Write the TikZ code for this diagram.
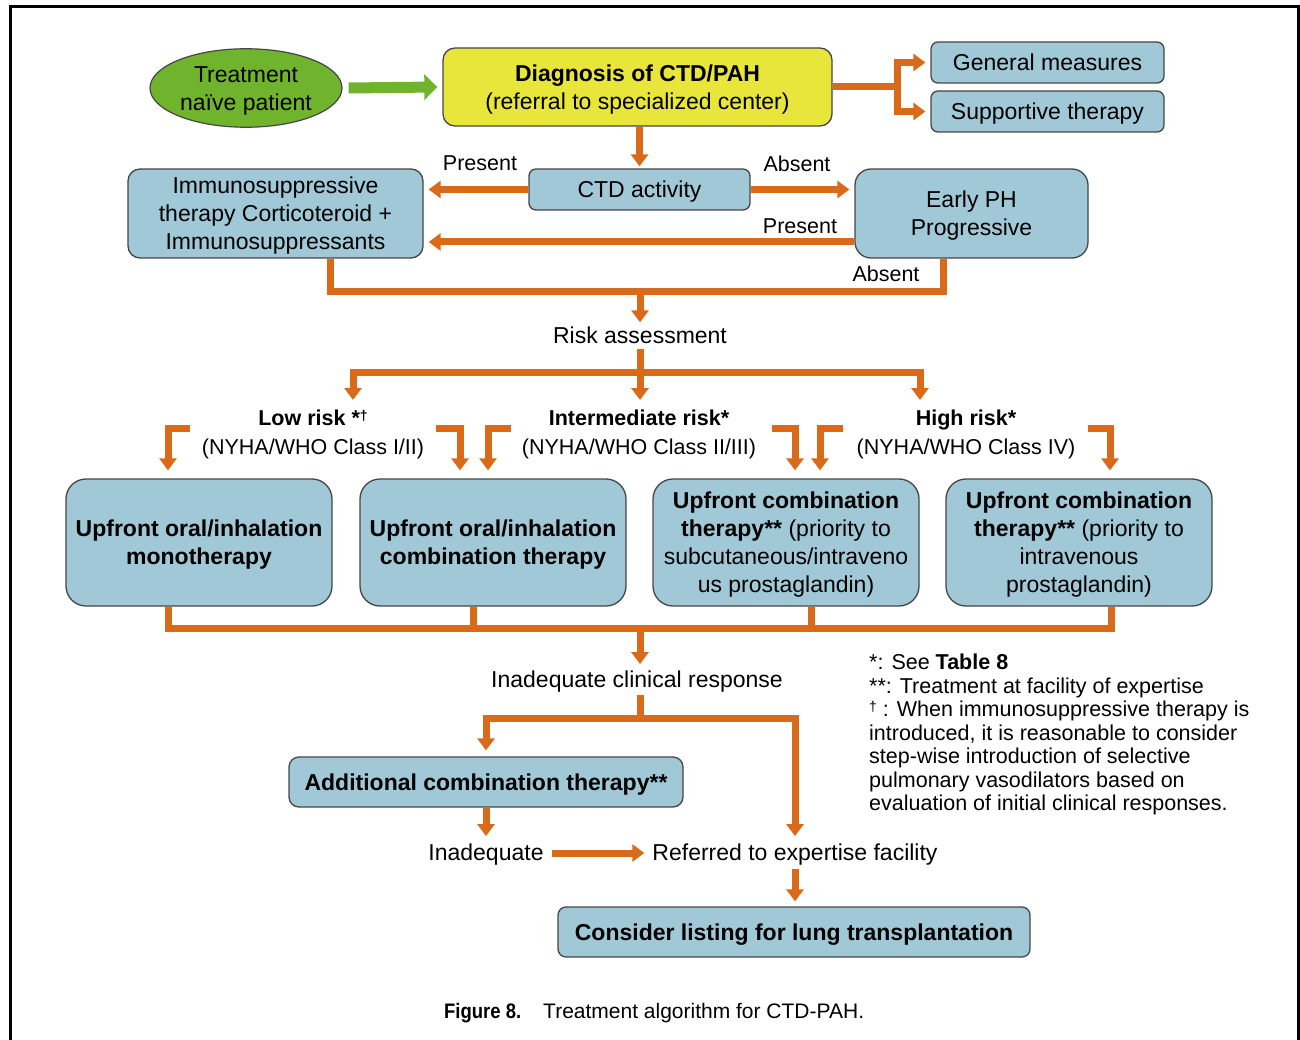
\documentclass[tikz,border=0pt]{standalone}
\usepackage{fontspec}
\setmainfont{Liberation Sans}
\newfontfamily\capfont[FakeStretch=0.88]{Liberation Sans}
\usetikzlibrary{shapes.geometric,arrows.meta,calc}

\definecolor{boxblue}{RGB}{160,200,214}
\definecolor{diagyellow}{RGB}{232,230,58}
\definecolor{naivegreen}{RGB}{112,180,46}
\definecolor{flow}{RGB}{217,106,26}
\definecolor{edgegray}{RGB}{70,70,70}

% small raised dagger
\newcommand{\dagmark}{{\fontsize{14}{14}\selectfont\raisebox{5pt}{†}}}
% strut that centres box text on its cap height
\newcommand{\bs}{\rule[-5.5pt]{0pt}{27.5pt}}

\begin{document}
\begin{tikzpicture}[x=1pt,y=-1pt,
  every node/.style={font=\fontsize{23}{28}\selectfont, inner sep=0pt},
  box/.style={draw=edgegray, line width=1.3pt, fill=boxblue, align=center, rounded corners=#1},
  box/.default=8pt,
  lab/.style={font=\fontsize{21.5}{26}\selectfont},
  risklab/.style={font=\fontsize{21.5}{29}\selectfont, align=center},
  oline/.style={draw=flow, line width=7pt},
  oarrow/.style={oline, -{Triangle[width=17pt,length=12pt]}},
  greenarrow/.style={draw=naivegreen, line width=11pt, -{Triangle[width=25pt,length=13pt]}}
]
\useasboundingbox (0,0) rectangle (1300,1040);
\fill[white] (0,0) rectangle (1300,1040);

% outer frame
\draw[line width=3pt] (10,1040) -- (10,7) -- (1298,7) -- (1298,1040);

% ---- top row ----
\node[ellipse, draw=edgegray, line width=1.2pt, fill=naivegreen, minimum width=192pt,
      minimum height=77pt, align=center] (naive) at (246,88) {\bs Treatment\\naïve patient\bs};
\node[box=12pt, fill=diagyellow, minimum width=389pt, minimum height=78pt] (diag) at (637.5,87)
      {\bs\textbf{Diagnosis of CTD/PAH}\\(referral to specialized center)\bs};
\node[box=7pt, minimum width=233pt, minimum height=41pt] (gen) at (1047.5,62.5) {\bs General measures};
\node[box=7pt, minimum width=233pt, minimum height=41pt] (supp) at (1047.5,111.5) {\bs Supportive therapy};

\draw[greenarrow] ([xshift=6pt]naive.east) -- ([xshift=-5pt]diag.west);
\coordinate (fork) at (897,87);
\draw[oline] (diag.east) -- (fork);
\draw[oarrow] (fork) |- ([xshift=-5pt]gen.west);
\draw[oarrow] (fork) |- ([xshift=-5pt]supp.west);

% ---- CTD activity row ----
\node[box=7pt, minimum width=221pt, minimum height=41pt] (ctd) at (639.5,189.5) {\bs CTD activity};
\node[box=12pt, minimum width=295pt, minimum height=89pt] (immuno) at (275.5,213.5)
      {\bs Immunosuppressive\\therapy Corticoteroid +\\Immunosuppressants\bs};
\node[box=16pt, minimum width=233pt, minimum height=89pt] (early) at (971.5,213.5)
      {\bs Early PH\\Progressive\bs};

\coordinate (diagS) at (ctd.north |- diag.south);
\draw[oarrow] (diagS) -- ([yshift=2pt]ctd.north);

\coordinate (ctdL) at (ctd.west -| immuno.east);
\draw[oarrow] (ctd.west) -- ([xshift=5pt]ctdL);
\node[lab] (pres1) at (480,163) {Present};

\coordinate (ctdR) at (ctd.east -| early.west);
\draw[oarrow] (ctd.east) -- ([xshift=-5pt]ctdR);
\node[lab] (abs1) at (797,164) {Absent};

\coordinate (epL) at ([yshift=-28.5pt]early.west);
\coordinate (imR) at (epL -| immuno.east);
\draw[oarrow] (epL) -- ([xshift=5pt]imR);
\node[lab] (pres2) at (800,226) {Present};
\node[lab] (abs2) at (886,274) {Absent};

% ---- risk assessment ----
\node (risk) at (640,335) {Risk assessment};
\coordinate (imB) at ([xshift=54.5pt]immuno.south);
\coordinate (epB) at ([xshift=-28.5pt]early.south);
\coordinate (j1) at (640,292);
\draw[oline] (imB) |- (j1) -| (epB);
\draw[oarrow] (j1) -- ([yshift=4pt]risk.north);

\coordinate (j2) at (640,372);
\coordinate (lowT) at (353,400);
\coordinate (midT) at (640,400);
\coordinate (highT) at (920,400);
\draw[oline] ([yshift=-5pt]risk.south) -- (j2);
\draw[oarrow] (j2) -| (lowT);
\draw[oarrow] (j2) -| (highT);
\draw[oarrow] (j2) -- (midT);

\node[risklab] (lowlab) at (313,434.5) {\textbf{Low risk *\dagmark}\\(NYHA/WHO Class I/II)};
\node[risklab] (midlab) at (639,434.5) {\textbf{Intermediate risk*}\\(NYHA/WHO Class II/III)};
\node[risklab] (highlab) at (966,434.5) {\textbf{High risk*}\\(NYHA/WHO Class IV)};

% ---- initial therapy boxes ----
\node[box=20pt, minimum width=266pt, minimum height=127pt] (box1) at (199,542.5)
      {\bs\textbf{Upfront oral/inhalation}\\\textbf{monotherapy}\bs};
\node[box=20pt, minimum width=266pt, minimum height=127pt] (box2) at (493,542.5)
      {\bs\textbf{Upfront oral/inhalation}\\\textbf{combination therapy}\bs};
\node[box=20pt, minimum width=266pt, minimum height=127pt] (box3) at (786,542.5)
      {\bs\textbf{Upfront combination}\\\textbf{therapy**} (priority to\\subcutaneous/intraveno\\us prostaglandin)\bs};
\node[box=20pt, minimum width=266pt, minimum height=127pt] (box4) at (1079,542.5)
      {\bs\textbf{Upfront combination}\\\textbf{therapy**} (priority to\\intravenous\\prostaglandin)\bs};

% bracket arrows from the risk levels
\coordinate (k1) at (190,428);
\coordinate (k2) at (436,428);
\coordinate (k3) at (511,428);
\coordinate (k4) at (772,428);
\coordinate (k5) at (843,428);
\coordinate (k6) at (1088,428);
\draw[oarrow] (k1) -| ([xshift=-31pt,yshift=8pt]box1.north);
\draw[oarrow] (k2) -| ([xshift=-33pt,yshift=8pt]box2.north);
\draw[oarrow] (k3) -| ([xshift=-5pt,yshift=8pt]box2.north);
\draw[oarrow] (k4) -| ([xshift=9pt,yshift=8pt]box3.north);
\draw[oarrow] (k5) -| ([xshift=34pt,yshift=8pt]box3.north);
\draw[oarrow] (k6) -| ([xshift=31pt,yshift=8pt]box4.north);

% ---- merge and follow-up ----
\coordinate (m) at (640,628);
\coordinate (b1b) at ([xshift=-31pt]box1.south);
\coordinate (b4b) at ([xshift=32pt]box4.south);
\draw[oline] (b1b) |- (m) -| (b4b);
\draw[oline] ([xshift=-20pt]box2.south) -- ++(0,22);
\draw[oline] ([xshift=25pt]box3.south) -- ++(0,22);

\node (inadcl) at (637,682) {Inadequate clinical response};
\coordinate (icN) at (m |- inadcl.north);
\draw[oarrow] (m) -- ([yshift=7pt]icN);

\node[box=10pt, minimum width=394pt, minimum height=50pt] (add) at (486,782)
      {\bs\textbf{Additional combination therapy**}\bs};
\node (inad) at (486,855) {Inadequate};
\node (refer) at (795,855) {Referred to expertise facility};
\node[box=8pt, minimum width=472pt, minimum height=50pt] (lung) at (794,932)
      {\bs\textbf{Consider listing for lung transplantation}\bs};

\coordinate (j3) at (640,718);
\coordinate (icS) at (j3 |- inadcl.south);
\draw[oline] ([yshift=-2pt]icS) -- (j3);
\draw[oarrow] (j3) -| ([yshift=6pt]add.north);
\draw[oarrow] (j3) -| ([yshift=8pt]refer.north);
\draw[oarrow] (add.south) -- ([yshift=8pt]inad.north);
\draw[oarrow] ([xshift=8pt,yshift=2pt]inad.east) -- ([xshift=-8pt,yshift=2pt]refer.west);
\coordinate (lungN) at (refer.south |- lung.north);
\draw[oarrow] ([yshift=-3pt]refer.south) -- ([yshift=5pt]lungN);

% ---- notes ----
\node[anchor=north west, align=left, font=\fontsize{21.5}{23.5}\selectfont] (notes) at (869,654)
      {*: See \textbf{Table 8}\\
       **: Treatment at facility of expertise\\
       \dagmark\ : When immunosuppressive therapy is\\
       introduced, it is reasonable to consider\\
       step-wise introduction of selective\\
       pulmonary vasodilators based on\\
       evaluation of initial clinical responses.};

% ---- caption ----
\node[anchor=west, font=\capfont\bfseries\fontsize{21}{24}\selectfont] (figno) at (444,1013) {Figure 8.};
\node[anchor=west, font=\fontsize{21}{24}\selectfont] (figcap) at (543,1013) {Treatment algorithm for CTD-PAH.};
\end{tikzpicture}
\end{document}
